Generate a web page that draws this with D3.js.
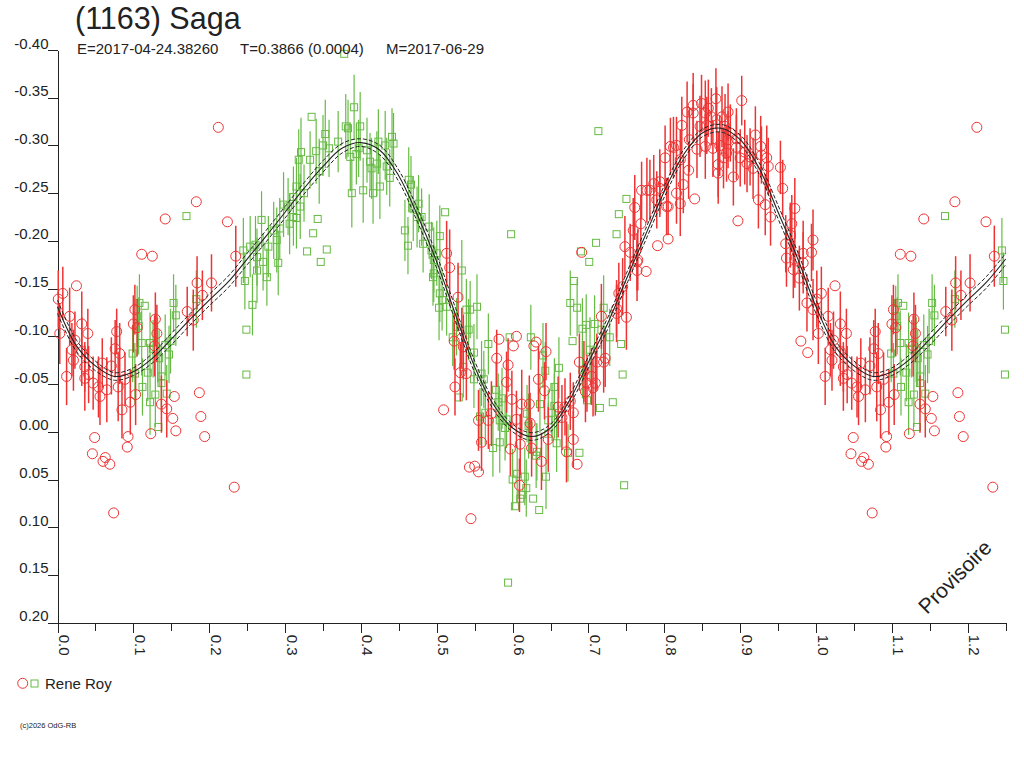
<!DOCTYPE html>
<html><head><meta charset="utf-8">
<script src="https://cdn.jsdelivr.net/npm/d3@7"></script>
<style>
body{margin:0;background:#fff;}
svg{display:block;}
text{font-family:"Liberation Sans",Arial,sans-serif;fill:#222;}
</style>
</head><body>
<svg id="c" width="1024" height="768"></svg>
<script>
const titleText = "(1163) Saga";
const subtitleParts = ["E=2017-04-24.38260", "T=0.3866 (0.0004)", "M=2017-06-29"];
const seriesName = "Rene Roy";
const watermark = "Provisoire";
const copyright = "(c)2026 OdG-RB";

const xTickValues = [0.0,0.1,0.2,0.3,0.4,0.5,0.6,0.7,0.8,0.9,1.0,1.1,1.2];
const xTickLabels = ["0.0","0.1","0.2","0.3","0.4","0.5","0.6","0.7","0.8","0.9","1.0","1.1","1.2"];
const xMinorTicks = [0.05,0.15,0.25,0.35,0.45,0.55,0.65,0.75,0.85,0.95,1.05,1.15,1.25];
const yTickValues = [-0.40,-0.35,-0.30,-0.25,-0.20,-0.15,-0.10,-0.05,0.00,0.05,0.10,0.15,0.20];
const yTickLabels = ["-0.40","-0.35","-0.30","-0.25","-0.20","-0.15","-0.10","-0.05","0.00","0.05","0.10","0.15","0.20"];

// fitted light curve (phase 0..1)
const fitPhase = [0.000,0.025,0.050,0.075,0.100,0.125,0.150,0.175,0.200,0.225,0.250,0.275,0.300,0.325,0.350,0.375,0.400,0.425,0.450,0.475,0.500,0.525,0.550,0.575,0.600,0.625,0.650,0.675,0.700,0.725,0.750,0.775,0.800,0.825,0.850,0.875,0.900,0.925,0.950,0.975,1.000];
const fitMag   = [-0.131,-0.090,-0.069,-0.058,-0.063,-0.077,-0.097,-0.118,-0.138,-0.157,-0.181,-0.205,-0.230,-0.255,-0.278,-0.297,-0.303,-0.295,-0.268,-0.226,-0.178,-0.122,-0.068,-0.028,-0.004,0.005,-0.004,-0.033,-0.073,-0.113,-0.160,-0.206,-0.252,-0.290,-0.313,-0.318,-0.306,-0.276,-0.230,-0.183,-0.131];
const fitUpper = [-0.138,-0.096,-0.074,-0.062,-0.067,-0.082,-0.103,-0.124,-0.144,-0.163,-0.187,-0.211,-0.236,-0.261,-0.284,-0.302,-0.307,-0.300,-0.274,-0.233,-0.185,-0.129,-0.074,-0.033,-0.008,0.001,-0.008,-0.038,-0.079,-0.119,-0.166,-0.212,-0.258,-0.295,-0.317,-0.322,-0.311,-0.282,-0.237,-0.190,-0.138];
const fitLower = [-0.124,-0.084,-0.064,-0.054,-0.059,-0.072,-0.091,-0.112,-0.132,-0.151,-0.175,-0.199,-0.224,-0.249,-0.272,-0.292,-0.299,-0.290,-0.262,-0.219,-0.171,-0.115,-0.062,-0.023,0.000,0.009,0.000,-0.028,-0.067,-0.107,-0.154,-0.200,-0.246,-0.285,-0.309,-0.314,-0.301,-0.270,-0.223,-0.176,-0.124];

// [phase, magnitude, error]  (error 0 = no bar)
const redPoints = [
[0.001,-0.139,0.030],[0.007,-0.145,0.028],[0.003,-0.103,0.032],[0.016,-0.121,0.030],[0.025,-0.153,0],
[0.032,-0.113,0.034],[0.040,-0.103,0.026],[0.023,-0.096,0.030],[0.019,-0.086,0.028],[0.021,-0.075,0.032],
[0.032,-0.084,0.036],[0.012,-0.058,0.030],[0.036,-0.068,0.026],[0.041,-0.060,0.030],[0.036,-0.056,0.034],
[0.047,-0.051,0.028],[0.054,-0.047,0.032],[0.056,-0.037,0.030],[0.059,-0.072,0.026],[0.071,-0.069,0.030],
[0.065,-0.044,0.034],[0.078,-0.105,0.024],[0.076,-0.087,0.030],[0.082,-0.082,0.032],[0.080,-0.047,0.036],
[0.085,-0.023,0.030],[0.089,-0.055,0.028],[0.100,-0.113,0.030],[0.102,-0.128,0.026],[0.105,-0.109,0.030],
[0.096,-0.031,0.034],[0.103,-0.039,0.032],[0.093,0.005,0],[0.092,0.016,0],[0.049,0.006,0],
[0.046,0.023,0],[0.063,0.027,0],[0.060,0.031,0],[0.069,0.034,0],[0.074,0.085,0],
[0.111,-0.186,0],[0.125,-0.184,0],[0.123,0.002,0],[0.129,-0.118,0.028],[0.131,-0.103,0.030],
[0.128,-0.090,0.032],[0.137,-0.029,0.030],[0.154,-0.037,0],[0.144,-0.024,0.030],[0.152,-0.014,0],
[0.156,-0.001,0],[0.171,-0.126,0.026],[0.184,-0.156,0.028],[0.203,-0.156,0.030],[0.191,-0.143,0.026],
[0.179,-0.117,0.032],[0.187,-0.041,0],[0.189,-0.016,0],[0.194,0.005,0],[0.233,0.058,0],
[0.235,-0.184,0.032],[0.212,-0.319,0],[0.183,-0.241,0],[0.224,-0.220,0],[0.142,-0.223,0],
[0.513,-0.187,0.034],[0.517,-0.172,0.040],[0.528,-0.141,0.036],[0.524,-0.047,0.030],[0.509,-0.023,0],
[0.533,-0.098,0.032],[0.523,-0.095,0.030],[0.535,-0.089,0.034],[0.531,-0.062,0.030],[0.539,-0.061,0.028],
[0.582,-0.097,0],[0.605,-0.100,0],[0.601,-0.090,0],[0.628,-0.090,0],[0.631,-0.094,0],
[0.644,-0.084,0.030],[0.579,-0.077,0.030],[0.594,-0.070,0.028],[0.592,-0.052,0.032],[0.599,-0.034,0.030],
[0.634,-0.055,0.034],[0.642,-0.043,0.030],[0.612,-0.029,0.036],[0.622,-0.029,0.030],[0.555,-0.012,0.032],
[0.568,-0.012,0.030],[0.572,-0.019,0.034],[0.605,-0.013,0.030],[0.623,-0.009,0.032],[0.559,0.011,0.030],
[0.597,0.018,0.028],[0.610,0.013,0.032],[0.625,0.017,0.030],[0.647,0.008,0.034],[0.638,0.031,0.030],
[0.660,-0.026,0.032],[0.669,-0.026,0.030],[0.665,-0.015,0.034],[0.676,-0.032,0.030],[0.680,-0.020,0.032],
[0.680,0.008,0.030],[0.671,0.021,0.032],[0.685,0.034,0],[0.543,0.037,0],[0.550,0.036,0],
[0.555,0.042,0],[0.609,0.056,0.028],[0.545,0.091,0],[0.688,-0.073,0.030],[0.694,-0.063,0.032],
[0.698,-0.051,0.030],[0.709,-0.051,0.034],[0.711,-0.073,0.030],[0.720,-0.073,0.032],[0.722,-0.077,0.030],
[0.717,-0.121,0.034],[0.737,-0.129,0.030],[0.750,-0.120,0.034],[0.740,-0.145,0.032],[0.745,-0.152,0.030],
[0.748,-0.194,0.032],[0.755,-0.188,0.030],[0.759,-0.211,0.034],[0.764,-0.178,0.030],[0.764,-0.169,0.032],
[0.776,-0.168,0],[0.769,-0.218,0.030],[0.691,-0.188,0],[0.704,-0.058,0.030],[0.696,-0.042,0.032],
[0.706,-0.046,0.030],[0.737,-0.124,0.030],[0.765,-0.180,0.032],[0.761,-0.235,0.034],[0.770,-0.253,0.030],
[0.781,-0.253,0.032],[0.790,-0.243,0.030],[0.794,-0.262,0.034],[0.803,-0.236,0.030],[0.805,-0.202,0],
[0.791,-0.195,0],
[0.902,-0.347,0.026],[0.868,-0.349,0.032],[0.849,-0.344,0.030],[0.838,-0.342,0.034],[0.858,-0.339,0.030],
[0.830,-0.335,0.032],[0.838,-0.334,0.030],[0.854,-0.334,0.034],[0.884,-0.335,0.030],[0.876,-0.330,0.032],
[0.862,-0.330,0.030],[0.869,-0.327,0.034],[0.823,-0.321,0.030],[0.847,-0.320,0.032],[0.856,-0.321,0.030],
[0.880,-0.320,0.034],[0.887,-0.313,0.030],[0.895,-0.307,0.032],[0.920,-0.311,0.030],[0.833,-0.306,0.034],
[0.816,-0.300,0.030],[0.812,-0.298,0.032],[0.843,-0.296,0.030],[0.854,-0.299,0.034],[0.864,-0.297,0.030],
[0.873,-0.300,0.032],[0.884,-0.306,0.030],[0.895,-0.298,0.034],[0.882,-0.292,0.030],[0.878,-0.287,0.032],
[0.900,-0.287,0.030],[0.906,-0.293,0.034],[0.913,-0.288,0.030],[0.927,-0.299,0.032],[0.928,-0.290,0.030],
[0.935,-0.287,0.034],[0.937,-0.278,0.030],[0.917,-0.276,0.032],[0.909,-0.281,0.030],[0.871,-0.280,0.034],
[0.891,-0.267,0.030],[0.871,-0.271,0.032],[0.832,-0.274,0.030],[0.801,-0.287,0.034],[0.808,-0.299,0.030],
[0.821,-0.285,0.032],[0.786,-0.260,0.030],[0.777,-0.253,0.034],[0.794,-0.255,0.030],[0.816,-0.250,0.032],
[0.825,-0.259,0.030],[0.821,-0.239,0.034],[0.805,-0.236,0.030],[0.840,-0.244,0],[0.897,-0.221,0],
[0.924,-0.243,0.030],[0.933,-0.238,0.032],[0.940,-0.225,0.030],[0.953,-0.277,0.028],[0.956,-0.255,0.030],
[0.972,-0.234,0.032],[0.968,-0.218,0.030],[0.966,-0.206,0.034],[0.960,-0.197,0.030],[0.996,-0.201,0.032],
[0.994,-0.188,0.030],[0.983,-0.187,0.034],[0.972,-0.181,0.030],[0.983,-0.177,0.032],[0.970,-0.170,0.030],
[0.978,-0.161,0.034],[0.961,-0.182,0.030],[0.988,-0.135,0.030],[0.996,-0.128,0.032],[0.980,-0.095,0],
[0.989,-0.083,0]
];

const greenPoints = [
[0.108,-0.135,0.030],[0.115,-0.132,0],[0.105,-0.121,0.032],[0.107,-0.111,0.030],[0.111,-0.093,0.034],
[0.099,-0.082,0.030],[0.102,-0.061,0.032],[0.112,-0.047,0.030],[0.122,-0.031,0.034],[0.119,-0.062,0.030],
[0.122,-0.093,0.032],[0.126,-0.087,0.030],[0.132,-0.086,0.034],[0.134,-0.077,0.030],[0.137,-0.058,0.032],
[0.137,-0.051,0.030],[0.129,-0.039,0.034],[0.144,-0.040,0.030],[0.133,-0.005,0],[0.142,-0.091,0.032],
[0.147,-0.081,0.030],[0.149,-0.095,0.034],[0.153,-0.135,0.030],[0.156,-0.122,0.032],[0.183,-0.139,0.030],
[0.170,-0.226,0],[0.247,-0.158,0.030],[0.249,-0.107,0],[0.249,-0.060,0],[0.245,-0.190,0.034],
[0.335,-0.330,0],[0.391,-0.340,0.034],[0.353,-0.312,0.036],[0.380,-0.320,0.034],[0.383,-0.318,0.030],
[0.399,-0.320,0.036],[0.350,-0.300,0.032],[0.358,-0.297,0.030],[0.341,-0.294,0.034],[0.321,-0.293,0.036],
[0.318,-0.285,0.032],[0.333,-0.285,0.030],[0.345,-0.273,0.034],[0.370,-0.304,0.032],[0.386,-0.288,0.036],
[0.397,-0.297,0.030],[0.408,-0.295,0.034],[0.394,-0.291,0.032],[0.412,-0.283,0.030],[0.423,-0.304,0.034],
[0.432,-0.300,0.036],[0.441,-0.309,0.030],[0.443,-0.302,0.032],[0.421,-0.281,0.034],[0.434,-0.278,0.030],
[0.414,-0.276,0.032],[0.438,-0.266,0.030],[0.425,-0.257,0.034],[0.388,-0.250,0.036],[0.403,-0.253,0.034],
[0.416,-0.250,0.032],[0.325,-0.250,0.030],[0.320,-0.236,0.034],[0.315,-0.224,0.032],[0.311,-0.225,0.030],
[0.298,-0.238,0.034],[0.306,-0.218,0.032],[0.343,-0.223,0],[0.337,-0.208,0],[0.329,-0.189,0],
[0.355,-0.191,0],[0.347,-0.178,0],[0.293,-0.213,0.032],[0.285,-0.211,0.030],[0.289,-0.201,0.034],
[0.269,-0.222,0.030],[0.278,-0.194,0.032],[0.271,-0.178,0.030],[0.291,-0.177,0.034],[0.261,-0.196,0.030],
[0.254,-0.194,0.032],[0.263,-0.183,0.030],[0.263,-0.169,0.034],[0.276,-0.162,0.030],[0.257,-0.133,0.032],
[0.315,-0.257,0.030],[0.311,-0.246,0.032],[0.304,-0.236,0.030],[0.378,-0.396,0],
[0.463,-0.264,0.034],[0.466,-0.259,0.030],[0.458,-0.211,0.032],[0.462,-0.195,0.030],[0.469,-0.234,0.034],
[0.476,-0.239,0.030],[0.474,-0.225,0.032],[0.480,-0.225,0.030],[0.511,-0.230,0],[0.490,-0.215,0.034],
[0.482,-0.197,0.030],[0.504,-0.205,0.032],[0.493,-0.190,0.030],[0.496,-0.180,0.034],[0.495,-0.162,0.030],
[0.533,-0.169,0.032],[0.504,-0.145,0.030],[0.503,-0.130,0.034],[0.513,-0.131,0.030],[0.539,-0.128,0.032],
[0.544,-0.128,0.030],[0.553,-0.131,0.034],[0.526,-0.110,0.030],[0.542,-0.107,0.032],
[0.598,-0.207,0],[0.710,-0.198,0],[0.737,-0.207,0],[0.690,-0.189,0],[0.701,-0.178,0],
[0.681,-0.158,0],[0.500,-0.187,0.034],[0.496,-0.166,0.030],[0.507,-0.138,0.032],[0.521,-0.099,0.030],
[0.568,-0.092,0.032],[0.596,-0.099,0],[0.624,-0.099,0.034],[0.549,-0.083,0.030],[0.535,-0.068,0.032],
[0.549,-0.055,0.030],[0.559,-0.061,0.034],[0.562,-0.055,0.030],[0.529,-0.036,0],[0.640,-0.080,0.034],
[0.643,-0.064,0.030],[0.661,-0.067,0.032],[0.655,-0.047,0.030],[0.679,-0.095,0],[0.676,-0.135,0.034],
[0.685,-0.130,0.030],[0.697,-0.112,0.032],[0.708,-0.113,0.030],[0.720,-0.130,0.034],[0.728,-0.099,0.030],
[0.743,-0.092,0],[0.745,-0.060,0],[0.732,-0.031,0],[0.715,-0.025,0],[0.698,-0.033,0],
[0.692,-0.065,0.030],[0.692,-0.108,0.032],[0.717,-0.107,0.030],[0.702,-0.086,0.034],[0.578,-0.044,0.030],
[0.586,-0.035,0.032],[0.581,-0.031,0.030],[0.564,-0.020,0.034],[0.557,-0.016,0.030],[0.583,-0.012,0.032],
[0.592,-0.013,0.030],[0.590,-0.004,0.034],[0.574,0.017,0.030],[0.583,0.011,0.032],[0.619,-0.019,0.030],
[0.621,-0.006,0.034],[0.636,-0.029,0.030],[0.647,-0.012,0.032],[0.652,-0.020,0.030],[0.655,-0.027,0.034],
[0.658,0.012,0.030],[0.647,0.002,0.032],[0.632,0.021,0.030],[0.631,0.025,0.034],[0.673,0.022,0.030],
[0.688,0.022,0],[0.606,0.044,0.030],[0.600,0.050,0.032],[0.616,0.047,0.030],[0.644,0.047,0.034],
[0.618,0.059,0.030],[0.612,0.066,0],[0.610,0.070,0],[0.627,0.070,0],[0.603,0.078,0],
[0.635,0.082,0],[0.747,0.056,0],[0.594,0.158,0],[0.750,-0.244,0],[0.740,-0.228,0],
[0.713,-0.315,0]
];

const redColor = "#ee3333", greenColor = "#66bb44", inkColor = "#222222";

const svg = d3.select("#c");
const x = d3.scaleLinear().domain([0, 1.25]).range([57.5, 1005.7]);
const y = d3.scaleLinear().domain([-0.40, 0.20]).range([50, 622.7]);

// phase wrapping: points in [0,0.25] are repeated at phase+1
const wrap = pts => pts.concat(pts.filter(p => p[0] + 1 <= 1.25).map(p => [p[0] + 1, p[1], p[2]]));

// axes
const yAxis = svg.append("g").attr("transform", `translate(${x(0)},0)`)
  .call(d3.axisLeft(y).tickValues(yTickValues).tickFormat((d, i) => yTickLabels[i]).tickSize(10).tickSizeOuter(0));
yAxis.selectAll("path,line").attr("stroke", inkColor).attr("shape-rendering", "crispEdges");
yAxis.selectAll("text").attr("x", -9).attr("y", -2).attr("dy", 0)
  .style("font-size", "15px").style("font-family", '"Liberation Sans",Arial,sans-serif').attr("fill", inkColor);

const xAxis = svg.append("g").attr("transform", `translate(0,${y(0.20)})`)
  .call(d3.axisBottom(x).tickValues(xTickValues).tickFormat((d, i) => xTickLabels[i]).tickSize(10).tickSizeOuter(0));
xAxis.selectAll("path,line").attr("stroke", inkColor).attr("shape-rendering", "crispEdges");
xAxis.selectAll("text").attr("transform", "rotate(90)").attr("x", 12).attr("y", -1).attr("dy", 0)
  .style("text-anchor", "start").style("font-size", "15px")
  .style("font-family", '"Liberation Sans",Arial,sans-serif').attr("fill", inkColor);
const xMinor = svg.append("g").attr("transform", `translate(0,${y(0.20)})`)
  .call(d3.axisBottom(x).tickValues(xMinorTicks).tickFormat("").tickSize(8).tickSizeOuter(0));
xMinor.selectAll("path").remove();
xMinor.selectAll("line").attr("stroke", inkColor).attr("shape-rendering", "crispEdges");

// data
function drawSeries(pts, color, kind, bw) {
  const g = svg.append("g");
  const all = wrap(pts);
  g.selectAll("line.eb").data(all.filter(d => d[2] > 0)).join("line")
    .attr("x1", d => x(d[0])).attr("x2", d => x(d[0]))
    .attr("y1", d => y(d[1] - d[2])).attr("y2", d => y(d[1] + d[2]))
    .attr("stroke", color).attr("stroke-width", bw);
  if (kind === "circle") {
    g.selectAll("circle").data(all).join("circle")
      .attr("cx", d => x(d[0])).attr("cy", d => y(d[1])).attr("r", 5)
      .attr("fill", "none").attr("stroke", color).attr("stroke-width", 1);
  } else {
    g.selectAll("rect").data(all).join("rect")
      .attr("x", d => x(d[0]) - 3.5).attr("y", d => y(d[1]) - 3.5).attr("width", 7).attr("height", 7)
      .attr("fill", "none").attr("stroke", color).attr("stroke-width", 1);
  }
}
drawSeries(greenPoints, greenColor, "square", 1.2);
drawSeries(redPoints, redColor, "circle", 1.5);

// fitted curves
function curvePts(mags) {
  const base = fitPhase.map((p, i) => [p, mags[i]]);
  const ext = fitPhase.map((p, i) => [p + 1, mags[i]]).filter(d => d[0] > 1 && d[0] <= 1.25);
  return base.concat(ext);
}
const line = d3.line().x(d => x(d[0])).y(d => y(d[1])).curve(d3.curveCatmullRom);
svg.append("path").attr("d", line(curvePts(fitUpper))).attr("fill", "none")
  .attr("stroke", inkColor).attr("stroke-width", 1).attr("stroke-dasharray", "4,2");
svg.append("path").attr("d", line(curvePts(fitLower))).attr("fill", "none")
  .attr("stroke", inkColor).attr("stroke-width", 1).attr("stroke-dasharray", "4,2");
svg.append("path").attr("d", line(curvePts(fitMag))).attr("fill", "none")
  .attr("stroke", inkColor).attr("stroke-width", 1.1);

// titles
svg.append("text").attr("x", 75).attr("y", 29).style("font-size", "30.5px").text(titleText);
const subX = [77, 240, 386];
subtitleParts.forEach((t, i) => svg.append("text").attr("x", subX[i]).attr("y", 53.5).style("font-size", "15px").text(t));

// legend
svg.append("circle").attr("cx", 22.7).attr("cy", 683.3).attr("r", 5).attr("fill", "none").attr("stroke", redColor);
svg.append("rect").attr("x", 31).attr("y", 680).attr("width", 7).attr("height", 7).attr("fill", "none").attr("stroke", greenColor);
svg.append("text").attr("x", 45).attr("y", 688.5).style("font-size", "15px").text(seriesName);

// watermark & copyright
svg.append("text").attr("transform", "translate(927,615) rotate(-45)").style("font-size", "21px").text(watermark);
svg.append("text").attr("x", 20).attr("y", 728).style("font-size", "7.5px").text(copyright);
</script>
</body></html>
